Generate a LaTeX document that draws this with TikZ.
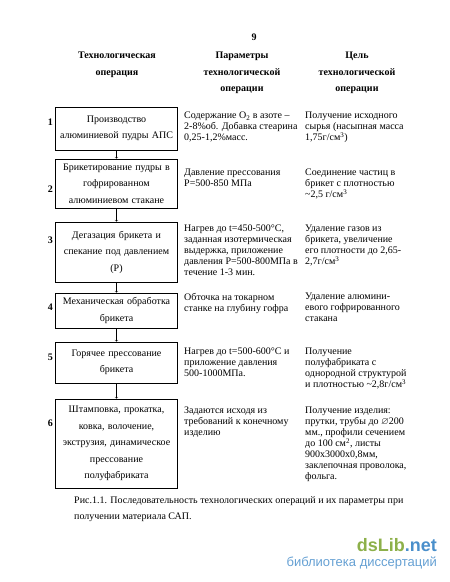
\documentclass[tikz,border=0pt]{standalone}
\usepackage{fontspec}
\usepackage{amssymb}
\setmainfont{Liberation Serif}
\setsansfont{Liberation Sans}
\usetikzlibrary{positioning}
\definecolor{dsgreen}{HTML}{8DB04A}
\definecolor{dsblue}{HTML}{4A8FCB}

\tikzset{
  opbox/.style={draw, line width=0.8pt, minimum width=122pt, text width=116pt, align=center, inner sep=3pt, font=\fontsize{10}{16.5}\selectfont},
  coltext/.style={anchor=north west, align=left, inner sep=0pt, font=\fontsize{10}{11}\selectfont},
  head/.style={anchor=north, align=center, inner sep=0pt, font=\bfseries\fontsize{10}{16.5}\selectfont},
  num/.style={anchor=east, inner sep=0pt, font=\bfseries\fontsize{10}{12}\selectfont},
}

\begin{document}
\begin{tikzpicture}[x=1pt, y=-1pt]
\useasboundingbox (0,0) rectangle (450,582);

% page number and headers
\node[inner sep=0pt, font=\bfseries\fontsize{10}{12}\selectfont] (page) at (254,37) {9};
\node[head] (h1) at (117,52) {Технологическая\\операция};
\node[head] (h2) at (242,52) {Параметры\\технологической\\операции};
\node[head] (h3) at (357,52) {Цель\\технологической\\операции};

% operations
\node[opbox, minimum height=43pt] (b1) at (116.5,128.5) {Производство\\алюминиевой пудры АПС};
\node[opbox, minimum height=49pt] (b2) at (116.5,183.5) {Брикетирование пудры в\\гофрированном\\алюминиевом стакане};
\node[opbox, minimum height=60pt] (b3) at (116.5,252) {Дегазация брикета и\\спекание под давлением\\(Р)};
\node[opbox, minimum height=35pt] (b4) at (116.5,310.5) {Механическая обработка\\брикета};
\node[opbox, minimum height=41pt] (b5) at (116.5,362.5) {Горячее прессование\\брикета};
\node[opbox, minimum height=89pt] (b6) at (116.5,443.5) {Штамповка, прокатка,\\ковка, волочение,\\экструзия, динамическое\\прессование\\полуфабриката};

\draw[->] (b1) -- (b2);
\draw[->] (b2) -- (b3);
\draw[->] (b3) -- (b4);
\draw[->] (b4) -- (b5);
\draw[->] (b5) -- (b6);

% step numbers
\node[num] (n1) at (53,122) {1};
\node[num] (n2) at (53,189) {2};
\node[num] (n3) at (53,240) {3};
\node[num] (n4) at (53,307) {4};
\node[num] (n5) at (53,357) {5};
\node[num] (n6) at (53,423) {6};

% parameters
\node[coltext] (p1) at (184,112) {Содержание O\textsubscript{2} в азоте --\\2-8\%об. Добавка стеарина\\0,25-1,2\%масс.};
\node[coltext] (p2) at (184,169) {Давление прессования\\Р=500-850 МПа};
\node[coltext] (p3) at (184,225) {Нагрев до t=450-500°C,\\заданная изотермическая\\выдержка, приложение\\давления Р=500-800МПа в\\течение 1-3 мин.};
\node[coltext] (p4) at (184,293) {Обточка на токарном\\станке на глубину гофра};
\node[coltext] (p5) at (184,348) {Нагрев до t=500-600°C и\\приложение давления\\500-1000МПа.};
\node[coltext] (p6) at (184,407) {Задаются исходя из\\требований к конечному\\изделию};

% goals
\node[coltext] (g1) at (305,112) {Получение исходного\\сырья (насыпная масса\\1,75г/см\textsuperscript{3})};
\node[coltext] (g2) at (305,169) {Соединение частиц в\\брикет с плотностью\\\textasciitilde2,5 г/см\textsuperscript{3}};
\node[coltext] (g3) at (305,225) {Удаление газов из\\брикета, увеличение\\его плотности до 2,65-\\2,7г/см\textsuperscript{3}};
\node[coltext] (g4) at (305,293) {Удаление алюмини-\\евого гофрированного\\стакана};
\node[coltext] (g5) at (305,348) {Получение\\полуфабриката с\\однородной структурой\\и плотностью \textasciitilde2,8г/см\textsuperscript{3}};
\node[coltext] (g6) at (305,407) {Получение изделия:\\прутки, трубы до $\varnothing$200\\мм., профили сечением\\до 100 см\textsuperscript{2}, листы\\900x3000x0,8мм,\\заклепочная проволока,\\фольга.};

% caption
\node[anchor=north west, align=left, inner sep=0pt, font=\fontsize{10}{16}\selectfont] (cap) at (74,496) {Рис.1.1. Последовательность технологических операций и их параметры при\\получении материала САП.};

% watermark
\node[anchor=base east, inner sep=0pt, font=\sffamily\bfseries\fontsize{18}{18}\selectfont] (wm1) at (437,551) {\textcolor{dsgreen}{dsLib}\textcolor{dsblue}{.net}};
\node[anchor=base east, inner sep=0pt, text=dsblue!85, font=\sffamily\fontsize{13}{13}\selectfont] (wm2) at (437,566) {библиотека диссертаций};

\end{tikzpicture}
\end{document}
